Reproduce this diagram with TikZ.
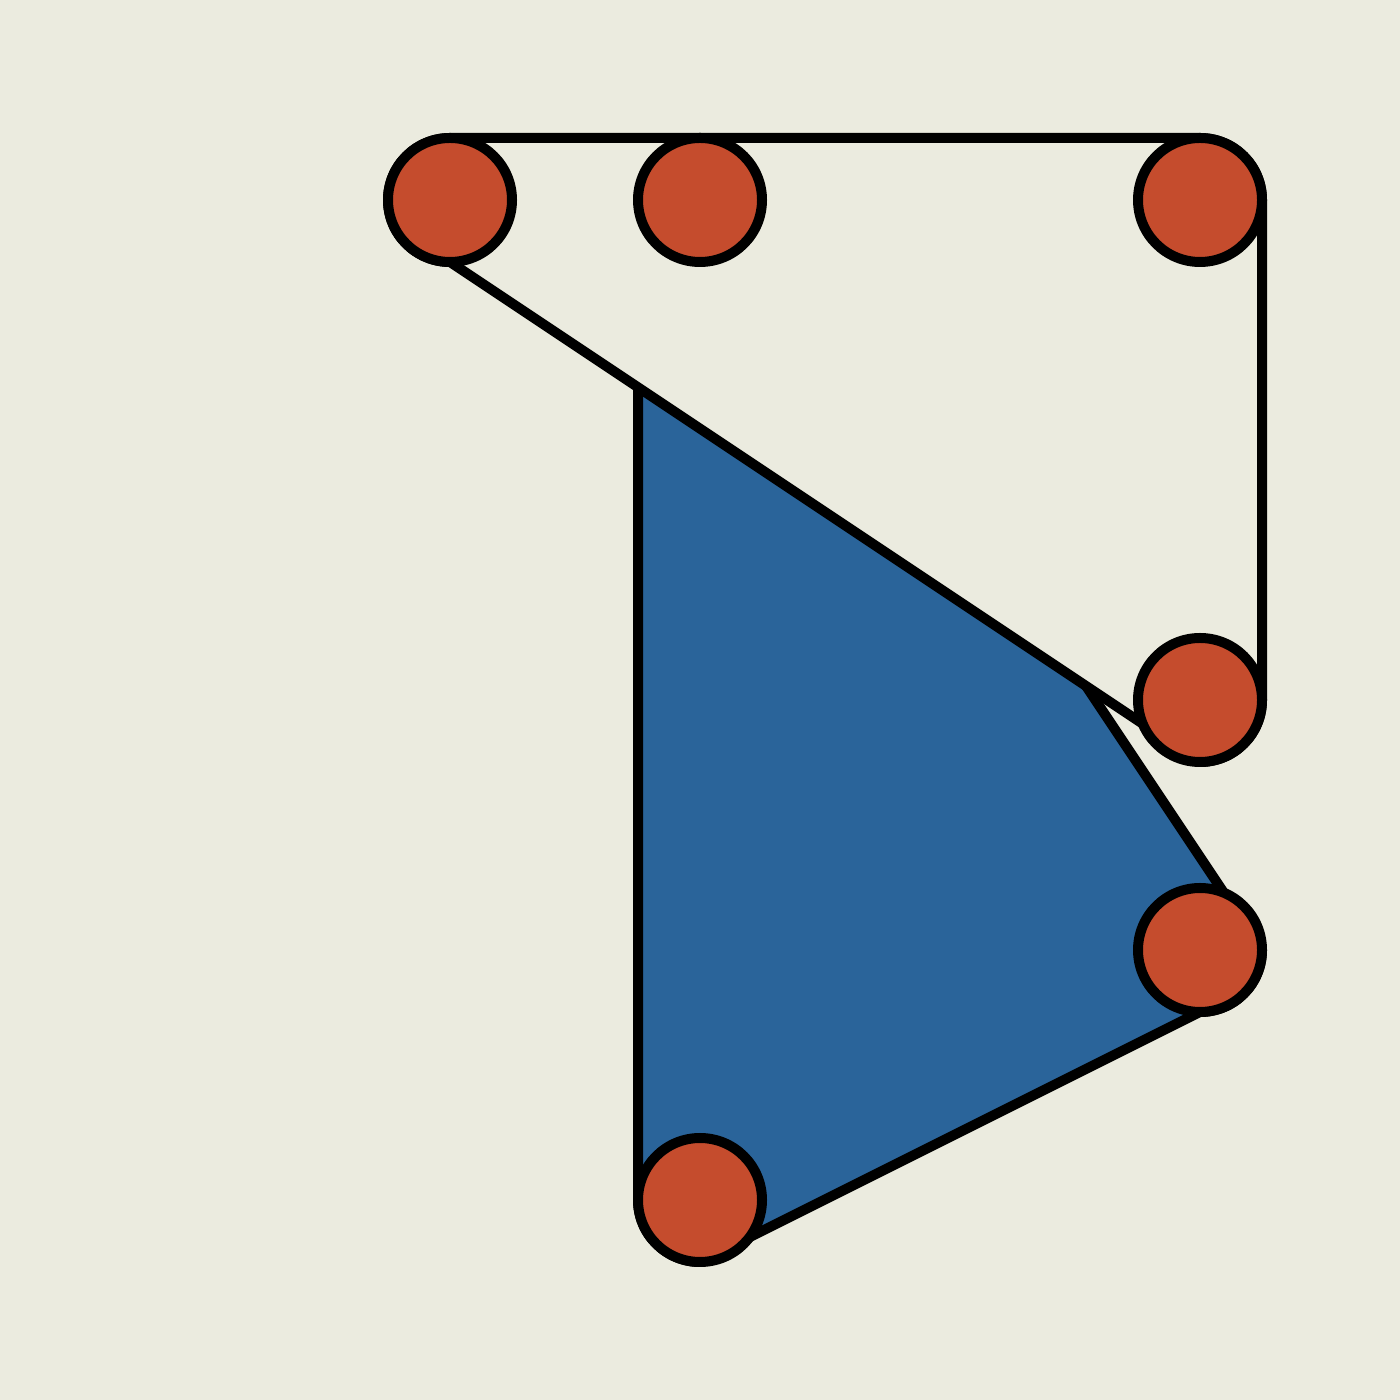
\documentclass[tikz,border=0pt]{standalone}
\usetikzlibrary{calc}
\definecolor{paper}{HTML}{EBEBDF}
\definecolor{dotred}{HTML}{C54C2D}
\definecolor{hullblue}{HTML}{2A649A}
\begin{document}
\begin{tikzpicture}[line width=1mm,
  dot/.style={circle,draw=black,fill=dotred,minimum size=12.4mm,inner sep=0pt,outer sep=0pt},
  hull/.style={draw=black,line join=round}]
\fill [paper] (0,0) rectangle (14,14);
\coordinate (a) at (4.5,12);
\coordinate (b) at (7,12);
\coordinate (c) at (12,12);
\coordinate (d) at (12,7);
\coordinate (e) at (12,4.5);
\coordinate (f) at (7,2);
% blue hull round b, e, f
\draw [hull,fill=hullblue] ($(b)+(-0.62,0)$) -- ($(f)+(-0.62,0)$) arc (180:270:0.62)
  -- ($(e)+(0,-0.62)$) arc (270:360:0.62)
  -- ($(b)+(0.62,0)$) arc (0:180:0.62) -- cycle;
% paper hull round a, b, c, d
\draw [hull,fill=paper] ($(a)+(0,0.62)$) -- ($(c)+(0,0.62)$) arc (90:0:0.62)
  -- ($(d)+(0.62,0)$) arc (0:-90:0.62)
  -- ($(a)+(0,-0.62)$) arc (270:90:0.62) -- cycle;
\node [dot] (na) at (a) {};
\node [dot] (nb) at (b) {};
\node [dot] (nc) at (c) {};
\node [dot] (nd) at (d) {};
\node [dot] (ne) at (e) {};
\node [dot] (nf) at (f) {};
\end{tikzpicture}
\end{document}
